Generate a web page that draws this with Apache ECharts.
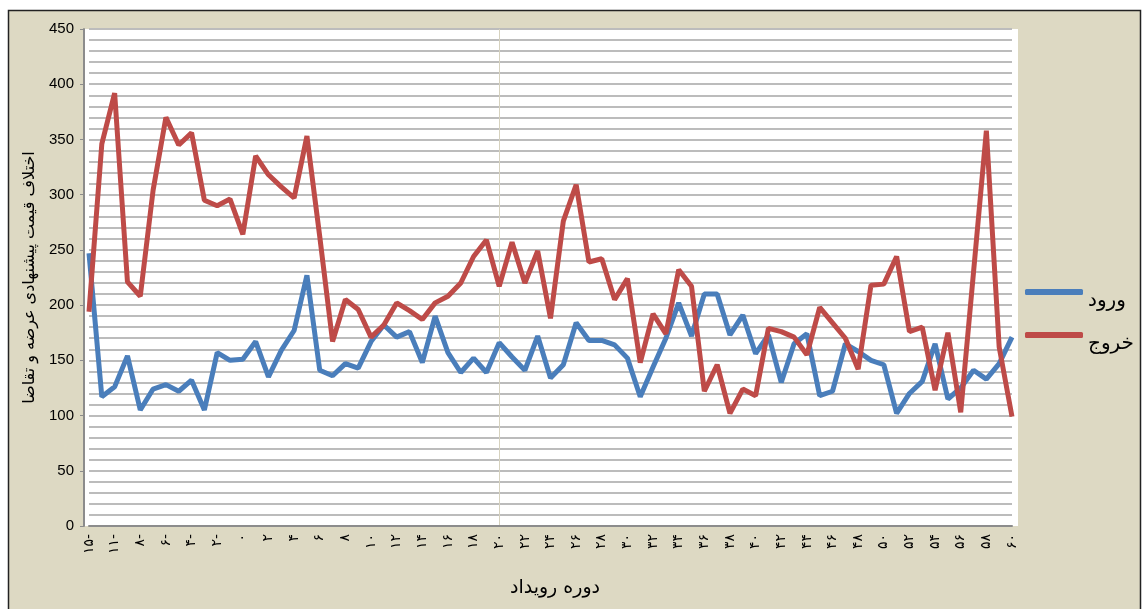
<!DOCTYPE html>
<html>
<head>
<meta charset="utf-8">
<title>دوره رویداد</title>
<script src="https://cdn.jsdelivr.net/npm/echarts@6/dist/echarts.min.js"></script>
<style>
  html, body { margin: 0; padding: 0; background: #fff; }
  #chart { width: 1146px; height: 609px; }
</style>
</head>
<body>
<div id="chart"></div>
<script>
// روزهای دوره رویداد (محور افقی)
const days = [-15, -13, -11, -10, -8, -7, -6, -5, -4, -3, -2, -1, 0,
  1, 2, 3, 4, 5, 6, 7, 8, 9, 10, 11, 12, 13, 14, 15, 16, 17, 18, 19, 20,
  21, 22, 23, 24, 25, 26, 27, 28, 29, 30, 31, 32, 33, 34, 35, 36, 37, 38, 39, 40,
  41, 42, 43, 44, 45, 46, 47, 48, 49, 50, 51, 52, 53, 54, 55, 56, 57, 58, 59, 60]
// ورود
const entryVals = [247, 117, 126, 154, 105, 124, 128, 122, 132, 105,
  157, 150, 151, 167, 135, 159, 177, 227, 141, 136,
  147, 143, 167, 182, 171, 176, 148, 190, 157, 139,
  152, 139, 166, 153, 141, 172, 134, 146, 184, 168,
  168, 164, 152, 117, 144, 170, 202, 172, 210, 210,
  173, 191, 156, 173, 130, 165, 174, 118, 122, 165,
  158, 150, 146, 102, 120, 131, 165, 115, 125, 141,
  133, 147, 171]
// خروج
const exitVals = [194, 346, 392, 221, 208, 304, 370, 345, 356, 295,
  290, 296, 264, 335, 318, 307, 297, 353, 262, 167,
  205, 196, 171, 182, 202, 195, 187, 202, 208, 220,
  244, 259, 217, 257, 220, 249, 188, 276, 309, 239,
  242, 205, 224, 148, 192, 174, 232, 217, 122, 146,
  102, 124, 118, 179, 176, 171, 155, 198, 184, 170,
  142, 218, 219, 244, 176, 180, 123, 175, 103, 230,
  358, 162, 99]
const yTicks = { min: 0, max: 450, step: 50 }

const faDigits = '۰۱۲۳۴۵۶۷۸۹'
const toFa = (n) => {
  const s = String(Math.abs(n)).replace(/\d/g, (d) => faDigits[d])
  return n < 0 ? s + '-' : s
}

const chart = echarts.init(document.getElementById('chart'))
const option = {
  backgroundColor: '#fff',
  animation: false,
  graphic: [
    {
      type: 'rect', z: -20, silent: true,
      shape: { x: 8.5, y: 10.5, width: 1132, height: 610 },
      style: { fill: '#ddd9c3', stroke: '#222', lineWidth: 1.5 }
    },
    {
      // پس زمینه سفید ناحیه نمودار
      type: 'rect', z: -10, silent: true,
      shape: { x: 84, y: 29, width: 934, height: 497 },
      style: { fill: '#fff' }
    },
    {
      type: 'text', silent: true,
      x: 555, y: 588,
      style: {
        text: 'دوره رویداد',
        font: '19px "DejaVu Sans"', fill: '#000',
        textAlign: 'center', textVerticalAlign: 'middle'
      }
    }
  ],
  grid: { left: 89, right: 134, top: 29, bottom: 83 },
  legend: {
    orient: 'vertical',
    left: 1020,
    top: 284,
    itemWidth: 58,
    itemHeight: 6,
    itemGap: 21,
    icon: 'roundRect',
    formatter: '{t|{name}}',
    textStyle: {
      color: '#000',
      rich: { t: { fontSize: 20, fontFamily: 'DejaVu Sans', color: '#000', padding: [18, 0, 0, 0] } }
    },
    data: ['ورود', 'خروج']
  },
  xAxis: {
    type: 'category',
    boundaryGap: false,
    data: days,
    axisLine: { lineStyle: { color: '#8c8c8c', width: 2 } },
    axisTick: { show: false },
    axisLabel: {
      interval: 1,
      rotate: 90,
      margin: 8,
      fontSize: 14,
      fontFamily: 'DejaVu Sans',
      color: '#000',
      formatter: (v) => toFa(Number(v))
    },
    splitLine: {
      show: true,
      interval: (idx, v) => Number(v) === 20,
      lineStyle: { color: '#d6d2bf', width: 1 }
    }
  },
  yAxis: {
    type: 'value',
    min: yTicks.min,
    max: yTicks.max,
    interval: yTicks.step,
    offset: 5,
    name: 'اختلاف قیمت پیشنهادی عرضه و تقاضا',
    nameLocation: 'middle',
    nameRotate: 90,
    nameGap: 44,
    nameTextStyle: { fontSize: 16, fontFamily: 'DejaVu Sans', color: '#000' },
    axisLine: { show: true, lineStyle: { color: '#8c8c8c', width: 2 } },
    axisTick: { show: true, length: 4, lineStyle: { color: '#8c8c8c' } },
    axisLabel: { fontSize: 15, fontFamily: 'Liberation Sans', color: '#000', margin: 10 },
    splitLine: { show: true, lineStyle: { color: '#bcbcbc', width: 2 } },
    minorTick: { show: false, splitNumber: 5 },
    minorSplitLine: { show: true, lineStyle: { color: '#bcbcbc', width: 2 } }
  },
  series: [
    {
      name: 'ورود',
      type: 'line',
      data: entryVals,
      symbol: 'none',
      color: '#4a7ebb',
      lineStyle: { width: 5, color: '#4a7ebb' }
    },
    {
      name: 'خروج',
      type: 'line',
      data: exitVals,
      symbol: 'none',
      color: '#be4b48',
      lineStyle: { width: 5, color: '#be4b48' }
    }
  ]
}
chart.setOption(option)
</script>
</body>
</html>
